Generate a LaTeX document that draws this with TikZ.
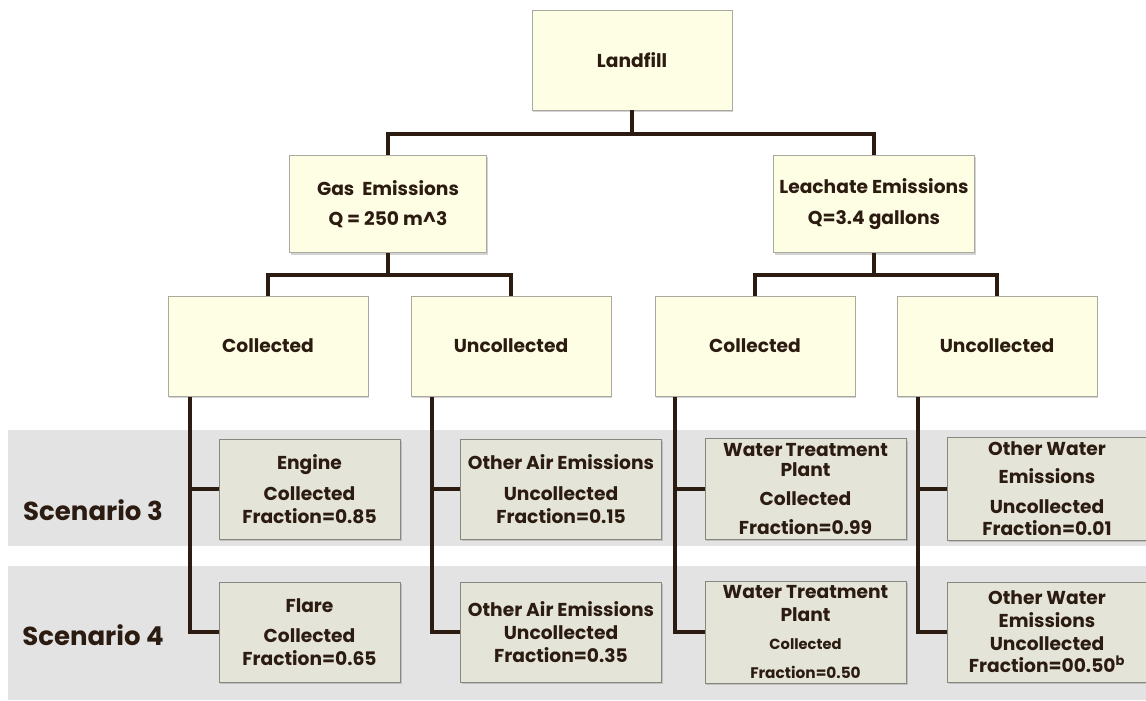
\documentclass[tikz,border=0pt]{standalone}
\usepackage{fontspec}
\setmainfont{Poppins}
\usetikzlibrary{shadows}
\definecolor{ink}{HTML}{2B1B10}
\definecolor{cream}{HTML}{FEFEE4}
\definecolor{leaffill}{HTML}{E5E4D8}
\definecolor{boxline}{HTML}{A9A9A0}
\definecolor{band}{HTML}{E3E3E3}
\begin{document}
\begin{tikzpicture}[x=0.75pt,y=-0.75pt,font=\fontsize{14}{17}\selectfont\bfseries,text=ink,
  topbox/.style={draw=boxline,fill=cream,align=center,minimum width=150pt,minimum height=75pt,
    drop shadow={opacity=0.35,shadow xshift=1pt,shadow yshift=-1.5pt}},
  leafbox/.style={topbox,fill=leaffill,draw=boxline!80!black},
  link/.style={draw=ink,line width=2.6pt}]
  \useasboundingbox (0,0) rectangle (1146,700);
  % scenario bands
  \fill[band] (8,430) rectangle (1146,546);
  \fill[band] (8,566) rectangle (1146,700);
  \node[font=\fontsize{19.5}{22}\selectfont\bfseries] (sc3) at (93,510) {Scenario 3};
  \node[font=\fontsize{19.5}{22}\selectfont\bfseries] (sc4) at (93,635) {Scenario 4};

  % tree
  \node[topbox] (land) at (632,60) {Landfill};
  \node[topbox,minimum width=148pt,minimum height=73pt] (gas) at (388,204) {Gas\ \ Emissions\\[6pt]Q = 250 m\^{}3};
  \node[topbox,minimum width=151pt,minimum height=73pt] (leach) at (874,204) {Leachate Emissions\\[6pt]Q=3.4 gallons};
  \node[topbox] (col1) at (268,346) {Collected};
  \node[topbox] (unc1) at (511,346) {Uncollected};
  \node[topbox] (col2) at (755,346) {Collected};
  \node[topbox] (unc2) at (997,346) {Uncollected};

  \coordinate (j0) at (632,134);
  \draw[link] (land.south) -- (j0) -| (gas.north);
  \draw[link] (j0) -| (leach.north);
  \coordinate (j1) at (388,275);
  \draw[link] (gas.south) -- (j1) -| (col1.north);
  \draw[link] (j1) -| (unc1.north);
  \coordinate (j2) at (874,275);
  \draw[link] (leach.south) -- (j2) -| (col2.north);
  \draw[link] (j2) -| (unc2.north);

  % scenario leaves
  \node[leafbox,minimum width=136pt] (engine) at (309.5,489) {Engine\\[6pt]Collected\\Fraction=0.85};
  \node[leafbox,minimum width=136pt] (flare) at (309.5,632) {Flare\\[6pt]Collected\\Fraction=0.65};
  \node[leafbox,minimum width=151pt] (air3) at (561,489) {Other Air Emissions\\[6pt]Uncollected\\Fraction=0.15};
  \node[leafbox,minimum width=151pt] (air4) at (561,632) {Other Air Emissions\\Uncollected\\Fraction=0.35};
  \node[leafbox,minimum width=151pt] (wtp3) at (805.5,489) {Water\,Treatment\\[-2pt]Plant\\[5pt]Collected\\[5pt]Fraction=0.99};
  \node[leafbox,minimum width=151pt] (wtp4) at (805.5,632) {Water Treatment\\Plant\\[4pt]{\fontsize{11}{13}\selectfont Collected}\\[5pt]{\fontsize{11.5}{13}\selectfont Fraction=0.50}};
  \node[leafbox,minimum width=149pt] (wat3) at (1047,489) {Other Water\\[4pt]Emissions\\[5pt]Uncollected\\Fraction=0.01};
  \node[leafbox,minimum width=149pt] (wat4) at (1047,632) {Other Water\\Emissions\\Uncollected\\Fraction=00.50\textsuperscript{b}};

  \coordinate (c1) at (190,397);
  \coordinate (u1) at (432,397);
  \coordinate (c2) at (675,397);
  \coordinate (u2) at (918,397);
  \draw[link] (c1) |- (flare.west);  \draw[link] (c1 |- engine.west) -- (engine.west);
  \draw[link] (u1) |- (air4.west);   \draw[link] (u1 |- air3.west) -- (air3.west);
  \draw[link] (c2) |- (wtp4.west);   \draw[link] (c2 |- wtp3.west) -- (wtp3.west);
  \draw[link] (u2) |- (wat4.west);   \draw[link] (u2 |- wat3.west) -- (wat3.west);
\end{tikzpicture}
\end{document}
